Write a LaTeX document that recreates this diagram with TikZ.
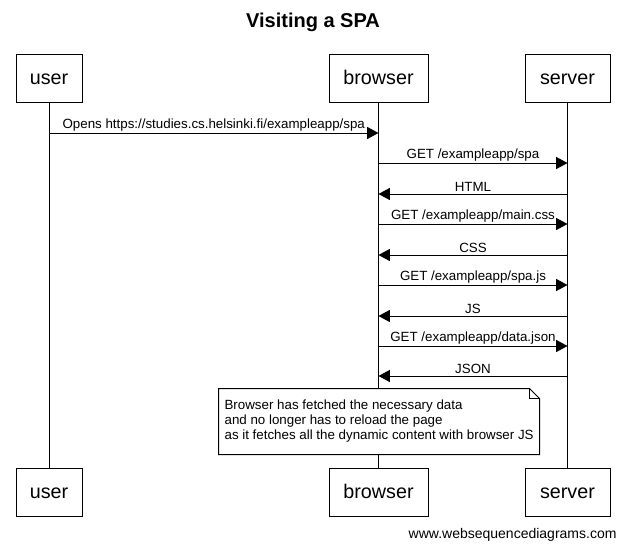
\documentclass[tikz,border=0pt]{standalone}
\usepackage{fontspec}
\setmainfont{Liberation Sans}
\usepackage{tikz}
\usetikzlibrary{
    arrows.meta,
    positioning,
    calc
}

\begin{document}
\begin{tikzpicture}[
    x=0.75pt,
    y=-0.75pt,
    line width=0.75pt,
    actor/.style={
        draw=black,
        fill=white,
        minimum height=36pt,
        inner sep=0pt,
        text height=11pt,
        text depth=1.25pt,
        font=\fontsize{14.8pt}{17pt}\selectfont
    },
    msg/.style={
        -{Triangle[length=8.5pt, width=9pt]}
    },
    msglabel/.style={
        font=\fontsize{10pt}{11pt}\selectfont,
        inner sep=1.2pt
    },
    notebox/.style={
        fill=white,
        minimum width=240pt,
        minimum height=48.75pt,
        inner sep=0pt
    }
]

% ============================================================
% CANVAS
% ============================================================

\useasboundingbox (0,0) rectangle (626,550);

\node[font=\bfseries\fontsize{15pt}{18pt}\selectfont]
    (title) at (313,22)
    {Visiting a SPA};

% ============================================================
% ACTORS
% ============================================================

\node[actor, minimum width=49.5pt]
    (userT) at (49,78) {user};

\node[actor, minimum width=74.25pt]
    (browserT) at (378.5,78) {browser};

\node[actor, minimum width=63.75pt]
    (serverT) at (567.5,78) {server};

\node[actor, minimum width=49.5pt]
    (userB) at (49,492) {user};

\node[actor, minimum width=74.25pt]
    (browserB) at (378.5,492) {browser};

\node[actor, minimum width=63.75pt]
    (serverB) at (567.5,492) {server};

% Lifelines
\draw (userT) -- (userB);
\draw (browserT) -- (browserB);
\draw (serverT) -- (serverB);

% ============================================================
% MESSAGES
% ============================================================

\coordinate (r1) at (0,133);
\coordinate (r2) at (0,163);
\coordinate (r3) at (0,194);
\coordinate (r4) at (0,224);
\coordinate (r5) at (0,255);
\coordinate (r6) at (0,285);
\coordinate (r7) at (0,316);
\coordinate (r8) at (0,346);
\coordinate (r9) at (0,376);

\draw[msg]
    (userT |- r1) -- (browserT |- r1)
    node[midway, above, msglabel]
    {Opens https://studies.cs.helsinki.fi/exampleapp/spa};

\draw[msg]
    (browserT |- r2) -- (serverT |- r2)
    node[midway, above, msglabel]
    {GET /exampleapp/spa};

\draw[msg]
    (serverT |- r3) -- (browserT |- r3)
    node[midway, above, msglabel]
    {HTML};

\draw[msg]
    (browserT |- r4) -- (serverT |- r4)
    node[midway, above, msglabel]
    {GET /exampleapp/main.css};

\draw[msg]
    (serverT |- r5) -- (browserT |- r5)
    node[midway, above, msglabel]
    {CSS};

\draw[msg]
    (browserT |- r6) -- (serverT |- r6)
    node[midway, above, msglabel]
    {GET /exampleapp/spa.js};

\draw[msg]
    (serverT |- r7) -- (browserT |- r7)
    node[midway, above, msglabel]
    {JS};

\draw[msg]
    (browserT |- r8) -- (serverT |- r8)
    node[midway, above, msglabel]
    {GET /exampleapp/data.json};

\draw[msg]
    (serverT |- r9) -- (browserT |- r9)
    node[midway, above, msglabel]
    {JSON};

% ============================================================
% NOTE
% ============================================================

\node[notebox]
    (note) at (379,421.5) {};

\draw[fill=white]
    (note.north west) -- ($(note.north east)+(-10,0)$)
    -- ($(note.north east)+(0,10)$)
    -- (note.south east) -- (note.south west) -- cycle;

\draw
    ($(note.north east)+(-10,0)$) -- ($(note.north east)+(-10,10)$)
    -- ($(note.north east)+(0,10)$);

\node[
    msglabel,
    anchor=west,
    align=left,
    font=\fontsize{10pt}{11.25pt}\selectfont
]
    (notetext) at ($(note.west)+(4,0)$)
{
Browser has fetched the necessary data\\
and no longer has to reload the page\\
as it fetches all the dynamic content with browser JS
};

% ============================================================
% FOOTER
% ============================================================

\node[
    anchor=east,
    font=\fontsize{10.5pt}{12pt}\selectfont,
    inner sep=0pt
]
    (footer) at (617,535)
    {www.websequencediagrams.com};

\end{tikzpicture}
\end{document}
